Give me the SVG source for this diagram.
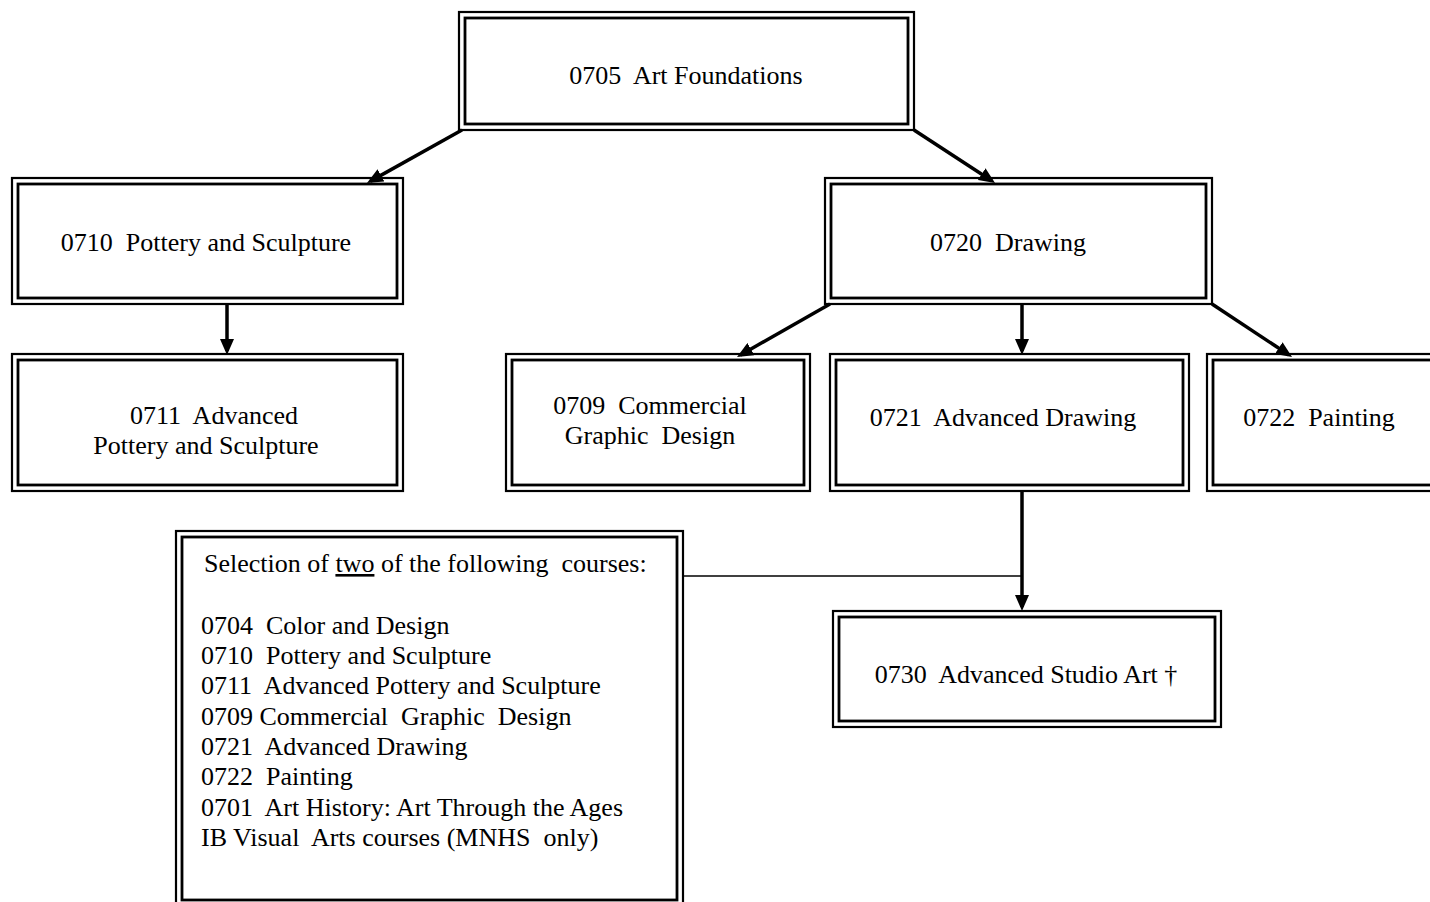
<svg xmlns="http://www.w3.org/2000/svg" width="1430" height="902" viewBox="0 0 1430 902">
<style>
  .o { fill: none; stroke: #000; stroke-width: 2.2; }
  .i { fill: none; stroke: #000; stroke-width: 2.8; }
  .t { font-family: "Liberation Serif", "Times New Roman", serif; font-size: 26px; fill: #000; white-space: pre; }
  .c { text-anchor: middle; }
  .a { fill: none; stroke: #000; stroke-width: 3.5; marker-end: url(#ah); }
  .l { fill: none; stroke: #000; stroke-width: 1.5; }
</style>
<defs>
  <marker id="ah" viewBox="0 0 16 14" refX="12" refY="7" markerWidth="16" markerHeight="14" markerUnits="userSpaceOnUse" orient="auto">
    <path d="M0,0 L16,7 L0,14 z" fill="#000"/>
  </marker>
</defs>
<rect width="1430" height="902" fill="#fff"/>

<g id="n0705">
  <rect class="o" x="459" y="12" width="455" height="118"/>
  <rect class="i" x="465" y="18" width="443" height="106"/>
  <text class="t c" x="686" y="84">0705  Art Foundations</text>
</g>
<g id="n0710">
  <rect class="o" x="12" y="178" width="391" height="126"/>
  <rect class="i" x="18" y="184" width="379" height="114"/>
  <text class="t c" x="206" y="251">0710  Pottery and Sculpture</text>
</g>
<g id="n0720">
  <rect class="o" x="825" y="178" width="387" height="126"/>
  <rect class="i" x="831" y="184" width="375" height="114"/>
  <text class="t c" x="1008" y="251">0720  Drawing</text>
</g>
<g id="n0711">
  <rect class="o" x="12" y="354" width="391" height="137"/>
  <rect class="i" x="18" y="360" width="379" height="125"/>
  <text class="t c" x="214" y="424">0711  Advanced</text>
  <text class="t c" x="206" y="454">Pottery and Sculpture</text>
</g>
<g id="n0709">
  <rect class="o" x="506" y="354" width="304" height="137"/>
  <rect class="i" x="512" y="360" width="292" height="125"/>
  <text class="t c" x="650" y="414">0709  Commercial</text>
  <text class="t c" x="650" y="444">Graphic  Design</text>
</g>
<g id="n0721">
  <rect class="o" x="830" y="354" width="359" height="137"/>
  <rect class="i" x="836" y="360" width="347" height="125"/>
  <text class="t c" x="1003" y="426">0721  Advanced Drawing</text>
</g>
<g id="n0722">
  <rect class="o" x="1207" y="354" width="240" height="137"/>
  <rect class="i" x="1213" y="360" width="240" height="125"/>
  <text class="t c" x="1319" y="426">0722  Painting</text>
</g>
<g id="n0730">
  <rect class="o" x="833" y="611" width="388" height="116"/>
  <rect class="i" x="839" y="617" width="376" height="104"/>
  <text class="t c" x="1026" y="683">0730  Advanced Studio Art †</text>
</g>
<g id="selection">
  <rect class="o" x="176" y="531" width="507" height="400"/>
  <rect class="i" x="182" y="537" width="495" height="363"/>
  <text class="t" x="204" y="572">Selection of <tspan text-decoration="underline">two</tspan> of the following  courses:</text>
  <text class="t" x="201" y="634">0704  Color and Design</text>
  <text class="t" x="201" y="664">0710  Pottery and Sculpture</text>
  <text class="t" x="201" y="694">0711  Advanced Pottery and Sculpture</text>
  <text class="t" x="201" y="725">0709 Commercial  Graphic  Design</text>
  <text class="t" x="201" y="755">0721  Advanced Drawing</text>
  <text class="t" x="201" y="785">0722  Painting</text>
  <text class="t" x="201" y="816">0701  Art History: Art Through the Ages</text>
  <text class="t" x="201" y="846">IB Visual  Arts courses (MNHS  only)</text>
</g>

<g id="connectors">
  <line class="a" x1="462" y1="130" x2="370.5" y2="181.1"/>
  <line class="a" x1="914" y1="130" x2="991.7" y2="180.8"/>
  <line class="a" x1="227" y1="305" x2="227" y2="351"/>
  <line class="a" x1="830" y1="304" x2="740.5" y2="355"/>
  <line class="a" x1="1022" y1="305" x2="1022" y2="351"/>
  <line class="a" x1="1212" y1="304" x2="1288.7" y2="354.8"/>
  <line class="a" x1="1022" y1="492" x2="1022" y2="607"/>
  <line class="l" x1="683" y1="576" x2="1022" y2="576"/>
</g>
</svg>
